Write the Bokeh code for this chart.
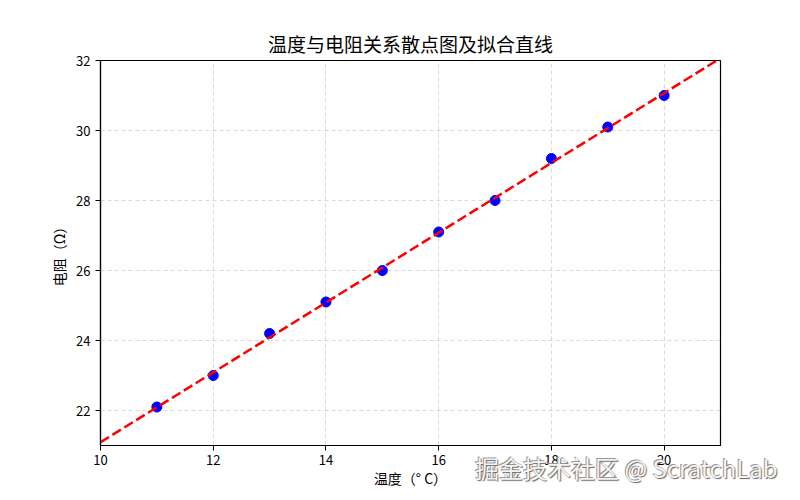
import numpy as np
from bokeh.plotting import figure
from bokeh.models import Range1d, FixedTicker, Div
from bokeh.layouts import column
from bokeh.embed import file_html
from bokeh.resources import INLINE

# data
temperature = [11, 12, 13, 14, 15, 16, 17, 18, 19, 20]
resistance = [22.1, 23.0, 24.2, 25.1, 26.0, 27.1, 28.0, 29.2, 30.1, 31.0]
x_ticks = [10, 12, 14, 16, 18, 20]
y_ticks = [22, 24, 26, 28, 30, 32]
fit_x = [10, 21]
watermark = "掘金技术社区 @ ScratchLab"

slope, intercept = np.polyfit(temperature, resistance, 1)
fit_y = [slope * v + intercept for v in fit_x]

FONT = "Noto Sans CJK SC"

p = figure(width=800, height=500, output_backend="svg", toolbar_location=None,
           x_range=Range1d(10, 21), y_range=Range1d(21, 32),
           min_border_left=100, min_border_right=80, min_border_top=60, min_border_bottom=55)

p.title.text = "温度与电阻关系散点图及拟合直线"
p.title.align = "center"
p.title.text_font = FONT
p.title.text_font_size = "19px"
p.title.text_font_style = "normal"
p.title.text_color = "black"
p.title.standoff = 7

p.outline_line_color = "black"
p.outline_line_width = 1.2
p.outline_line_alpha = 1.0

for ax in (p.xaxis[0], p.yaxis[0]):
    ax.axis_line_color = "black"
    ax.axis_line_width = 1.2
    ax.major_tick_line_color = "black"
    ax.major_tick_in = 0
    ax.major_tick_out = 5
    ax.minor_tick_line_color = None
    ax.major_label_text_font = FONT
    ax.major_label_text_font_size = "13px"
    ax.major_label_text_color = "black"
    ax.axis_label_text_font = FONT
    ax.axis_label_text_font_size = "14px"
    ax.axis_label_text_font_style = "normal"
    ax.axis_label_text_color = "black"

p.xaxis.ticker = FixedTicker(ticks=x_ticks)
p.yaxis.ticker = FixedTicker(ticks=y_ticks)
p.xaxis.axis_label = "温度（° C）"
p.yaxis.axis_label = "电阻（Ω）"
p.xaxis.major_label_standoff = 4
p.xaxis.axis_label_standoff = 0
p.yaxis.major_label_standoff = 5
p.yaxis.axis_label_standoff = 4

for g in (p.xgrid[0], p.ygrid[0]):
    g.grid_line_color = "#b0b0b0"
    g.grid_line_alpha = 0.6
    g.grid_line_dash = "4 3"
    g.grid_line_width = 0.8

p.scatter(temperature, resistance, size=10, color="blue", line_color="blue")
p.line(fit_x, fit_y, line_color="red", line_width=2.5, line_dash="10 4")

# watermark overlay (sits over the bottom-right corner of the figure)
wm = Div(text=watermark, width=320, height=30, margin=(-47, 0, 0, 475),
         styles={"font-family": FONT, "font-size": "24px", "color": "#f4f4f4",
                 "line-height": "30px", "white-space": "nowrap",
                 "text-shadow": "1px 1px 1px #666, -1px -1px 0 #999"})

layout = column(p, wm, spacing=0)
open("out.html", "w").write(file_html(layout, INLINE))
